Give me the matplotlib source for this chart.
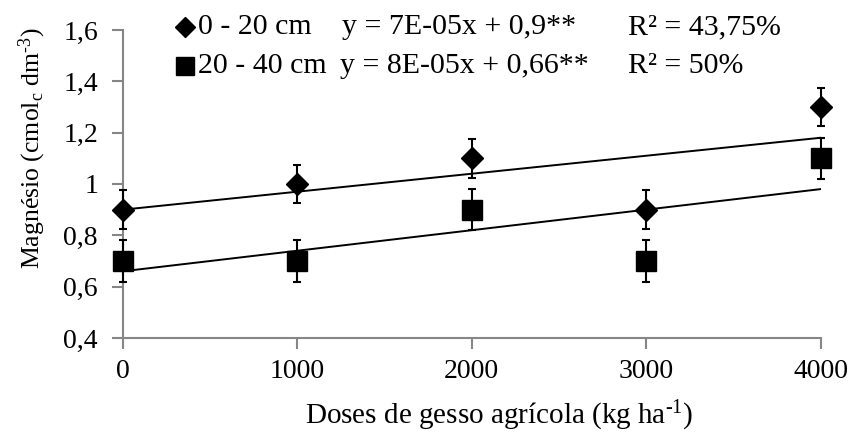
import matplotlib.pyplot as plt
import numpy as np

plt.rcParams['font.family'] = ['Liberation Serif', 'DejaVu Serif']
plt.rcParams['mathtext.fontset'] = 'custom'
plt.rcParams['mathtext.rm'] = 'Liberation Serif'
plt.rcParams['mathtext.it'] = 'Liberation Serif:italic'

doses = [0, 1000, 2000, 3000, 4000]
mg_0_20 = [0.9, 1.0, 1.1, 0.9, 1.3]
err_0_20 = [0.075, 0.075, 0.075, 0.075, 0.075]
mg_20_40 = [0.7, 0.7, 0.9, 0.7, 1.1]
err_20_40 = [0.08, 0.08, 0.08, 0.08, 0.08]

fit_0_20 = (7e-05, 0.9)
fit_20_40 = (8e-05, 0.66)

y_ticks = [0.4, 0.6, 0.8, 1.0, 1.2, 1.4, 1.6]
y_ticklabels = ['0,4', '0,6', '0,8', '1', '1,2', '1,4', '1,6']

fig = plt.figure(figsize=(8.5, 4.32), dpi=100)
ax = fig.add_axes([0.1447, 0.2176, 0.8206, 0.7130])

gray = '#868686'
fs = 20

xs = np.array([doses[0], doses[-1]])
ax.plot(xs, fit_0_20[0] * xs + fit_0_20[1], color='black', lw=1.4, zorder=2)
ax.plot(xs, fit_20_40[0] * xs + fit_20_40[1], color='black', lw=1.4, zorder=2)

ax.errorbar(doses, mg_0_20, yerr=err_0_20, fmt='D', color='black', ms=11,
            capsize=3, elinewidth=1.5, capthick=1.5, zorder=3, clip_on=False)
ax.errorbar(doses, mg_20_40, yerr=err_20_40, fmt='s', color='black', ms=15,
            capsize=3, elinewidth=1.5, capthick=1.5, zorder=3, clip_on=False)

ax.set_xlim(0, 4000)
ax.set_ylim(0.4, 1.6)
ax.set_xticks(doses)
ax.set_yticks(y_ticks)
ax.set_yticklabels(y_ticklabels)

for s in ['top', 'right']:
    ax.spines[s].set_visible(False)
for s in ['left', 'bottom']:
    ax.spines[s].set_color(gray)
    ax.spines[s].set_linewidth(1.5)
ax.tick_params(axis='x', direction='out', length=8, width=1.5, color=gray,
               labelsize=fs, pad=7)
ax.tick_params(axis='y', direction='out', length=8, width=1.5, color=gray,
               labelsize=fs, pad=10)

ax.set_xlabel('Doses de gesso agrícola (kg ha$^{\\mathregular{\u20101}}$)', fontsize=21)
ax.xaxis.set_label_coords(0.54, -0.197)
ax.set_ylabel('Magnésio (cmol$_{\\mathregular{c}}$ dm$^{\\mathregular{\u20103}}$)', fontsize=18.5)
ax.yaxis.set_label_coords(-0.108, 0.617)

# legend / equations
rows = [('D', 10.5, '0 - 20 cm', 'y = 7E-05x + 0,9**', 'R² = 43,75%', 0.937, 0.402),
        ('s', 13, '20 - 40 cm', 'y = 8E-05x + 0,66**', 'R² = 50%', 0.848, 0.400)]
for mk, ms, lab, eq, r2, yy, xeq in rows:
    fig.lines.append(plt.Line2D([0.218], [yy], marker=mk, ms=ms, color='black',
                                transform=fig.transFigure, linestyle='none'))
    fig.text(0.233, yy, lab, fontsize=21.5, va='center', ha='left')
    fig.text(xeq, yy, eq, fontsize=21.5, va='center', ha='left')
    fig.text(0.739, yy, r2, fontsize=21.5, va='center', ha='left')

fig.savefig('out.png', dpi=100)
